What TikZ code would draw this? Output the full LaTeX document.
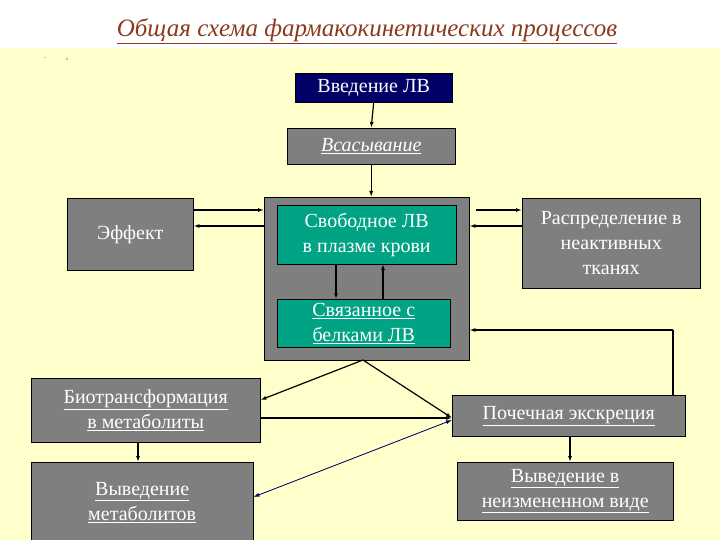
\documentclass[tikz,border=0pt]{standalone}
\usepackage{fontspec}
\setmainfont{Liberation Serif}
\usetikzlibrary{arrows.meta}
\definecolor{bgy}{HTML}{FFFFCC}
\definecolor{boxg}{HTML}{7F7F7F}
\definecolor{teal2}{HTML}{00A383}
\definecolor{navy2}{HTML}{000066}
\definecolor{titlec}{HTML}{8B3A1E}
\begin{document}
\begin{tikzpicture}[x=1pt,y=-1pt,
  box/.style={draw=black,fill=boxg,text=white,inner sep=0pt,align=center,anchor=north west,font=\fontsize{20}{25}\selectfont},
  grn/.style={box,fill=teal2},
  arr/.style={-{Latex[length=6pt,width=4pt]},line width=1.2pt}]
\useasboundingbox (0,0) rectangle (720,540);
\fill[white] (0,0) rectangle (720,48);
\fill[bgy] (0,48) rectangle (720,540);
\node[text=titlec,font=\fontsize{25}{30}\selectfont\itshape] (title) at (367,31) {\underline{Общая схема фармакокинетических процессов}};
\node[font=\tiny] (m1) at (45,59) {-};
\node[font=\tiny] (m2) at (67,59) {ı};
\node[box,fill=navy2,minimum width=157pt,minimum height=29pt] (vved) at (295,73) {Введение ЛВ};
\node[box,minimum width=168pt,minimum height=36pt,font=\fontsize{20}{25}\selectfont\itshape] (vsas) at (287,128) {\underline{Всасывание}};
\node[box,minimum width=205pt,minimum height=163pt] (outer) at (264,197) {};
\node[grn,minimum width=179pt,minimum height=59pt] (svob) at (277,205) {Свободное ЛВ\\в плазме крови};
\node[grn,minimum width=173pt,minimum height=48pt] (svyaz) at (277,299) {\underline{Связанное с}\\\underline{белками ЛВ}};
\node[box,minimum width=126pt,minimum height=72pt] (eff) at (67,198) {Эффект};
\node[box,minimum width=178pt,minimum height=90pt] (raspr) at (522,198) {Распределение в\\неактивных\\тканях};
\node[box,minimum width=229pt,minimum height=64pt] (bio) at (31,378) {\underline{Биотрансформация}\\\underline{в метаболиты}};
\node[box,minimum width=233pt,minimum height=41pt] (poch) at (452,395) {\underline{Почечная экскреция}};
\node[box,minimum width=222pt,minimum height=80pt] (vmet) at (31,462) {\underline{Выведение}\\\underline{метаболитов}};
\node[box,minimum width=216pt,minimum height=58pt] (vneiz) at (457,462) {\underline{Выведение в}\\\underline{неизмененном виде}};
\coordinate (ob) at (363,360);
\coordinate (corner1) at (673,330);
\draw[arr] (vved.south) -- (vsas.north);
\draw[arr] (vsas.south) -- (vsas.south |- outer.north);
\draw[arr] (eff.east |- 0,210) -- (outer.west |- 0,210);
\draw[arr] (outer.west |- 0,226) -- (eff.east |- 0,226);
\draw[arr] (476,210) -- (raspr.west |- 0,210);
\draw[arr] (raspr.west |- 0,226) -- (outer.east |- 0,226);
\draw[arr] (336,264) -- (336,299);
\draw[arr] (383,299) -- (383,264);
\draw[line width=1.2pt] (poch.north -| corner1) -- (corner1);
\draw[arr] (corner1) -- (outer.east |- corner1);
\draw[arr] (ob) -- (bio.east |- 0,400);
\draw[arr] (ob) -- (poch.west |- 0,418);
\draw[arr] (bio.east |- 0,418) -- (poch.west |- 0,418);
\draw[{Latex[length=6pt,width=4pt]}-{Latex[length=6pt,width=4pt]},draw=navy2,fill=navy2,line width=0.8pt] (poch.west |- 0,420) -- (vmet.east |- 0,497);
\draw[arr] (138,442) -- (138,462);
\draw[arr] (570,436) -- (570,462);
\end{tikzpicture}
\end{document}
